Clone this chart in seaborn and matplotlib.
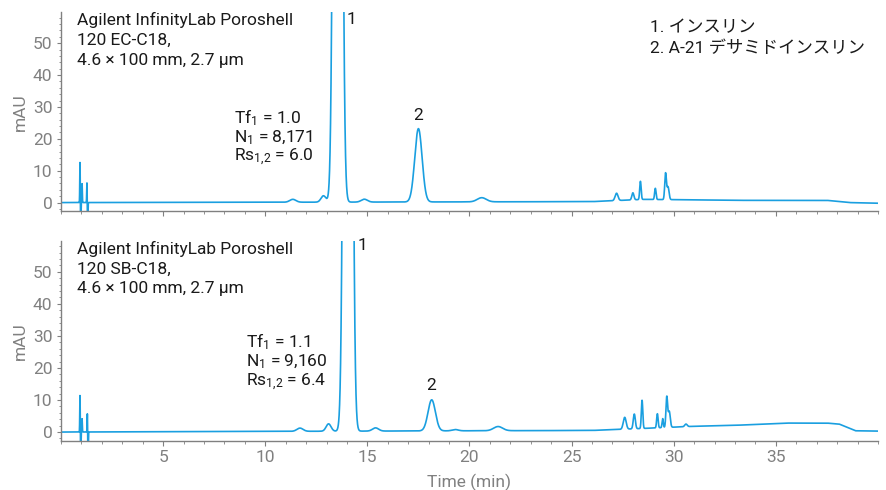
import numpy as np
import pandas as pd
import seaborn as sns
import matplotlib.pyplot as plt
from matplotlib.ticker import MultipleLocator

# peak tables: retention time (min), height (mAU), width (sigma, min)
ec_rt = [0.93, 0.96, 1.03, 1.27, 1.30, 11.35, 12.85, 13.55, 14.85, 17.5, 20.6,
         27.2, 28.0, 28.37, 29.1, 29.6, 29.72]
ec_h = [13.0, -9.0, 6.0, 6.5, -9.0, 0.9, 2.0, 600.0, 0.9, 23.0, 1.3,
        2.3, 2.2, 5.7, 3.5, 8.2, 4.0]
ec_w = [0.012, 0.012, 0.012, 0.012, 0.012, 0.15, 0.12, 0.14, 0.15, 0.18, 0.22,
        0.07, 0.05, 0.035, 0.035, 0.04, 0.05]

sb_rt = [0.93, 0.96, 1.03, 1.29, 1.32, 11.7, 13.1, 14.05, 15.4, 18.15, 19.3, 21.4,
         27.6, 28.07, 28.45, 29.2, 29.46, 29.66, 29.78, 30.6]
sb_h = [11.8, -9.0, 4.2, 6.0, -9.0, 1.0, 2.3, 600.0, 1.0, 9.7, 0.4, 1.3,
        3.7, 4.6, 8.8, 4.4, 2.8, 9.5, 5.0, 0.8]
sb_w = [0.012, 0.012, 0.012, 0.012, 0.012, 0.15, 0.12, 0.14, 0.15, 0.18, 0.15, 0.22,
        0.07, 0.05, 0.035, 0.035, 0.03, 0.04, 0.05, 0.06]

# baseline levels (time, mAU)
ec_base_t = [0.0, 10.0, 26.0, 28.5, 30.5, 33.0, 37.5, 38.6, 40.0]
ec_base_v = [0.0, 0.1, 0.3, 1.0, 0.9, 0.7, 0.7, 0.0, -0.2]
sb_base_t = [0.0, 10.0, 20.0, 26.0, 28.0, 31.0, 33.0, 35.5, 37.5, 38.1, 38.9, 40.0]
sb_base_v = [0.0, 0.2, 0.4, 0.5, 1.0, 1.8, 2.1, 2.8, 2.8, 2.5, 0.4, 0.3]

labels_ec = ["Agilent InfinityLab Poroshell", "120 EC-C18,", "4.6 × 100 mm, 2.7 µm"]
labels_sb = ["Agilent InfinityLab Poroshell", "120 SB-C18,", "4.6 × 100 mm, 2.7 µm"]
stats_ec = ["Tf$_1$ = 1.0", "N$_1$ = 8,171", "Rs$_{1{,}2}$ = 6.0"]
stats_sb = ["Tf$_1$ = 1.1", "N$_1$ = 9,160", "Rs$_{1{,}2}$ = 6.4"]
compounds = ["1. インスリン", "2. A-21 デサミドインスリン"]

t = np.arange(0, 40.0, 0.004)


def trace(rt, h, w, bt, bv):
    y = np.interp(t, bt, bv)
    for r, a, s in zip(rt, h, w):
        y = y + a * np.exp(-0.5 * ((t - r) / s) ** 2)
    return pd.DataFrame({"time": t, "mAU": y})


df_ec = trace(ec_rt, ec_h, ec_w, ec_base_t, ec_base_v)
df_sb = trace(sb_rt, sb_h, sb_w, sb_base_t, sb_base_v)

sns.set_style("ticks")
plt.rcParams["font.family"] = ["Roboto", "Noto Sans CJK JP", "DejaVu Sans"]
plt.rcParams["mathtext.fontset"] = "custom"
plt.rcParams["mathtext.rm"] = "Roboto"
plt.rcParams["mathtext.it"] = "Roboto"

blue = "#1a9fe0"
grey = "#808080"
txt = "#1a1a1a"
fs = 12.5
lfs = 12.5

fig = plt.figure(figsize=(8.87, 4.9), dpi=100)
ax1 = fig.add_axes([0.0688, 0.569, 0.921, 0.406])
ax2 = fig.add_axes([0.0688, 0.1006, 0.921, 0.408])

for ax, df in [(ax1, df_ec), (ax2, df_sb)]:
    sns.lineplot(data=df, x="time", y="mAU", ax=ax, color=blue, lw=1.2, estimator=None)
    ax.set_xlim(0, 40)
    ax.set_ylim(-2.7, 59.7)
    ax.xaxis.set_major_locator(MultipleLocator(5))
    ax.xaxis.set_minor_locator(MultipleLocator(1))
    ax.yaxis.set_major_locator(MultipleLocator(10))
    ax.yaxis.set_minor_locator(MultipleLocator(2))
    ax.set_xticks([5, 10, 15, 20, 25, 30, 35])
    sns.despine(ax=ax)
    for sp in ["left", "bottom"]:
        ax.spines[sp].set_color(grey)
        ax.spines[sp].set_linewidth(1.0)
    ax.tick_params(which="major", color=grey, labelcolor=grey, labelsize=lfs)
    ax.tick_params(which="minor", length=1.8, color=grey)
    ax.tick_params(axis="x", which="major", length=3.8, pad=3)
    ax.tick_params(axis="y", which="major", length=3.2, pad=3)
    ax.set_ylabel("mAU", color=grey, fontsize=lfs)
    ax.yaxis.set_label_coords(-0.041, 0.5)
    ax.set_xlabel("")

ax1.tick_params(axis="x", labelbottom=False)
ax2.set_xlabel("Time (min)", color=grey, fontsize=lfs, labelpad=6)

ax1.text(0.019, 1.0, "\n".join(labels_ec), transform=ax1.transAxes, va="top", ha="left",
         fontsize=fs, color=txt, linespacing=1.4)
ax2.text(0.019, 1.0, "\n".join(labels_sb), transform=ax2.transAxes, va="top", ha="left",
         fontsize=fs, color=txt, linespacing=1.4)

for i, s in enumerate(stats_ec):
    ax1.text(8.45, 26.6 - i * 6.27, s, fontsize=fs, color=txt, va="center", ha="left")
for i, s in enumerate(stats_sb):
    ax2.text(9.05, 28.1 - i * 6.27, s, fontsize=fs, color=txt, va="center", ha="left")

ax1.text(14.2, 57.5, "1", fontsize=fs, color=txt, va="center", ha="center")
ax1.text(17.5, 27.3, "2", fontsize=fs, color=txt, va="center", ha="center")
ax2.text(14.75, 58.2, "1", fontsize=fs, color=txt, va="center", ha="center")
ax2.text(18.1, 14.6, "2", fontsize=fs, color=txt, va="center", ha="center")

ax1.text(0.721, 0.96, "\n".join(compounds), transform=ax1.transAxes, va="top", ha="left",
         fontsize=fs, color=txt, linespacing=1.4)

fig.savefig("out.png", dpi=100)
